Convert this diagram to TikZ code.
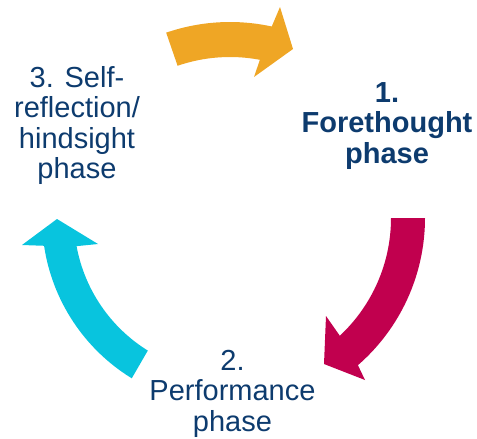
\documentclass[tikz,border=0pt]{standalone}
\usepackage{fontspec}
\setmainfont{Liberation Sans}
\usetikzlibrary{calc}
\definecolor{arrOrange}{HTML}{EFA625}
\definecolor{arrMagenta}{HTML}{C1004E}
\definecolor{arrCyan}{HTML}{08C4DE}
\definecolor{txtBlue}{HTML}{0D3B6E}
\begin{document}
\begin{tikzpicture}[x=1pt,y=-1pt,
  phase/.style={text=txtBlue, align=center, inner sep=0pt, anchor=north,
    font=\fontsize{29}{30.5}\selectfont},
  boldphase/.style={phase, font=\bfseries\fontsize{29}{30.5}\selectfont}]
\useasboundingbox (0,0) rectangle (477,439);
\coordinate (O) at (230,218);
% orange arrow (3 -> 1)
\fill[arrOrange] ($(O)+(-109:161)$) arc[start angle=-109,end angle=-79.3,radius=161]
  -- (254,77) -- (293,49) -- (280,7) -- ($(O)+(-77.7:196)$)
  arc[start angle=-77.7,end angle=-109,radius=196] -- cycle;
% magenta arrow (1 -> 2)
\fill[arrMagenta] ($(O)+(0:161)$) arc[start angle=0,end angle=47,radius=161]
  -- (326,316) -- (324,364) -- (365,380) -- ($(O)+(49:195)$)
  arc[start angle=49,end angle=0,radius=195] -- cycle;
% cyan arrow (2 -> 3)
\fill[arrCyan] ($(O)+(121.8:156)$) arc[start angle=121.8,end angle=169.6,radius=156]
  -- (98,244) -- (57,219) -- (22,245) -- ($(O)+(171.5:188)$)
  arc[start angle=171.5,end angle=121.5,radius=188] -- cycle;
% labels
\node[boldphase] (p1) at (387,82) {1.\\Forethought\\phase};
\node[phase] (p2) at (232.5,350) {2.\\Performance\\phase};
\node[phase] (p3) at (77,66) {3. Self-\\reflection/\\hindsight\\phase};
\end{tikzpicture}
\end{document}
